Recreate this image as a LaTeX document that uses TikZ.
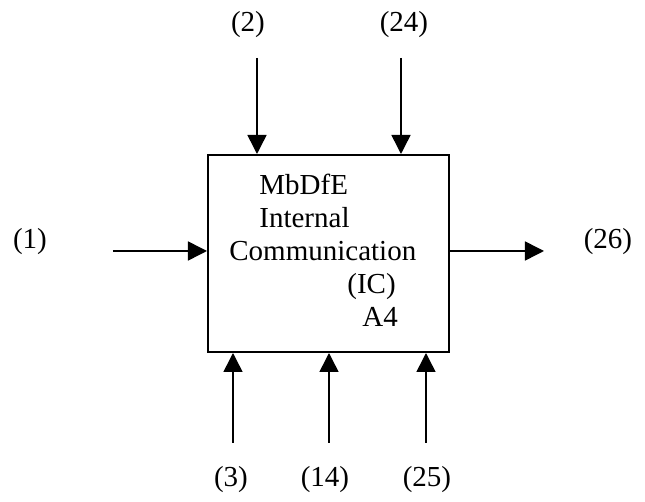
\documentclass[tikz,border=0pt]{standalone}
\usepackage{fontspec}
\setmainfont{Liberation Serif}
\usetikzlibrary{arrows.meta}
\tikzstyle{diagram} = [x = .5pt, y = -.5pt]
\tikzstyle{boxStyle} = [draw=black, line width=1pt, minimum width=120.5pt, minimum height=98.5pt, inner sep=0pt]
\tikzstyle{flowArrow} = [line width=.75pt, -{Triangle[length=9.5pt, width=9.5pt]}]
\tikzstyle{flowLabel} = [font=\fontsize{14.5}{17}\selectfont, inner sep=0pt]
\tikzstyle{boxText} = [flowLabel, anchor=base west]
\newcommand{\boxLine}[4]{\node [boxText] (#1) at (#2, #3) {#4};}
\newcommand{\flowLabelAt}[4]{\node [flowLabel] (#1) at (#2, #3) {#4};}

\begin{document}
\begin{tikzpicture}[diagram]
  \useasboundingbox (0,0) rectangle (645,502);
  % activity box
  \node [boxStyle] (ic) at (328.5,253.5) {};
  \boxLine{title}{259}{195}{MbDfE}
  \boxLine{internal}{259}{228}{Internal}
  \boxLine{communication}{229}{261}{Communication}
  \boxLine{abbrev}{347}{294}{(IC)}
  \boxLine{number}{362}{327}{A4}
  % input and output
  \coordinate (in1) at (113,251);
  \coordinate (out26) at (544,251);
  \draw [flowArrow] (in1) -- (ic.west |- in1);
  \draw [flowArrow] (ic.east |- out26) -- (out26);
  \flowLabelAt{lbl1}{30}{242}{(1)}
  \flowLabelAt{lbl26}{608}{242}{(26)}
  % controls
  \foreach \name/\xpos in {ctl2/257, ctl24/401} {
    \coordinate (\name) at (\xpos, 58);
    \draw [flowArrow] (\name) -- (\name |- ic.north);
  }
  \flowLabelAt{lbl2}{248}{25}{(2)}
  \flowLabelAt{lbl24}{404}{25}{(24)}
  % mechanisms
  \foreach \name/\xpos in {mech3/233, mech14/329, mech25/426} {
    \coordinate (\name) at (\xpos, 443);
    \draw [flowArrow] (\name) -- (\name |- ic.south);
  }
  \flowLabelAt{lbl3}{231}{480}{(3)}
  \flowLabelAt{lbl14}{325}{480}{(14)}
  \flowLabelAt{lbl25}{427}{480}{(25)}
\end{tikzpicture}
\end{document}
